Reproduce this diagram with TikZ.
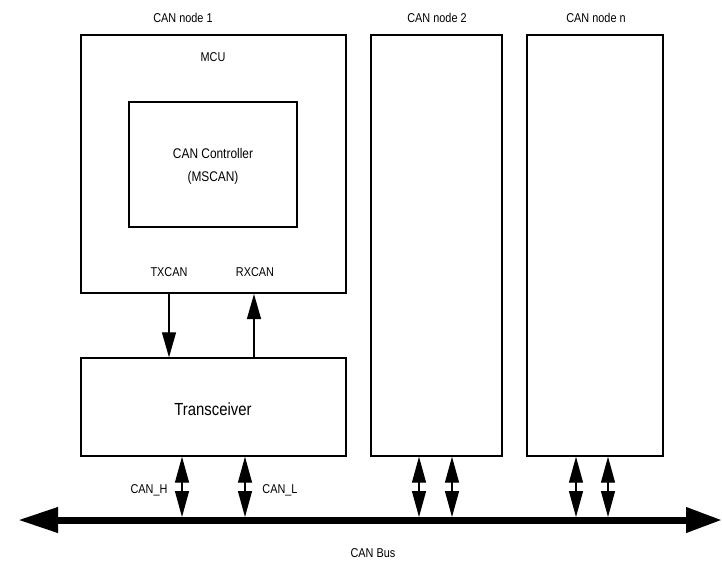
\documentclass[tikz,border=0pt]{standalone}
\usepackage{fontspec}
\setmainfont[FakeStretch=0.85]{Liberation Sans}
\usetikzlibrary{arrows.meta}
\begin{document}
\begin{tikzpicture}[x=1pt,y=-1pt,
  box/.style={draw,line width=1.4pt,inner sep=0pt},
  lbl/.style={font=\fontsize{12.8}{15}\selectfont,inner sep=0pt},
  sig/.style={line width=1.3pt,-{Triangle[length=25pt,width=14pt]}},
  bidir/.style={line width=1.3pt,{Triangle[length=26pt,width=14pt]}-{Triangle[length=26pt,width=14pt]}},
  bus/.style={line width=7pt,{Triangle[length=40pt,width=24pt]}-{Triangle[length=36pt,width=24pt]}}]
\useasboundingbox (0,0) rectangle (722,563);
\fill[white] (0,0) rectangle (722,563);
% boxes
\node[box,minimum width=265pt,minimum height=258pt] (mcu) at (213.5,164) {};
\node[box,minimum width=168pt,minimum height=125pt] (ctrl) at (213,164.5) {};
\node[box,minimum width=265pt,minimum height=98pt] (trans) at (213.5,407) {};
\node[box,minimum width=131pt,minimum height=421pt] (n2) at (436.5,245.5) {};
\node[box,minimum width=136pt,minimum height=421pt] (nn) at (595,245.5) {};
% labels
\node[lbl] (t1) at (183,18) {CAN node 1};
\node[lbl] (t2) at (437,18) {CAN node 2};
\node[lbl] (tn) at (596,18) {CAN node n};
\node[lbl] (tmcu) at (213,57) {MCU};
\node[lbl,font=\fontsize{14}{23}\selectfont,align=center] (tctrl) at (213,166) {CAN Controller\\(MSCAN)};
\node[lbl] (ttx) at (169,272) {TXCAN};
\node[lbl] (trx) at (255,272) {RXCAN};
\node[lbl,font=\fontsize{17.5}{20}\selectfont] (ttr) at (213,409) {Transceiver};
\node[lbl] (tch) at (149,490) {CAN\_H};
\node[lbl] (tcl) at (280,490) {CAN\_L};
\node[lbl] (tbus) at (373,553) {CAN Bus};
% TX / RX
\coordinate (tx) at (169,294);
\coordinate (rx) at (254,294);
\draw[sig] (tx) -- (tx |- trans.north);
\draw[sig] (rx |- trans.north) -- (rx);
% bus
\coordinate (busL) at (18,520);
\coordinate (busR) at (722,520);
\draw[bus] (busL) -- (busR);
% taps
\foreach \x/\n in {182/a,245/b}{
  \coordinate (p\n) at (\x,517);
  \draw[bidir] (p\n |- trans.south) -- (p\n);
}
\foreach \x/\n in {419/c,452/d}{
  \coordinate (p\n) at (\x,517);
  \draw[bidir] (p\n |- n2.south) -- (p\n);
}
\foreach \x/\n in {576/e,608/f}{
  \coordinate (p\n) at (\x,517);
  \draw[bidir] (p\n |- nn.south) -- (p\n);
}
\end{tikzpicture}
\end{document}
